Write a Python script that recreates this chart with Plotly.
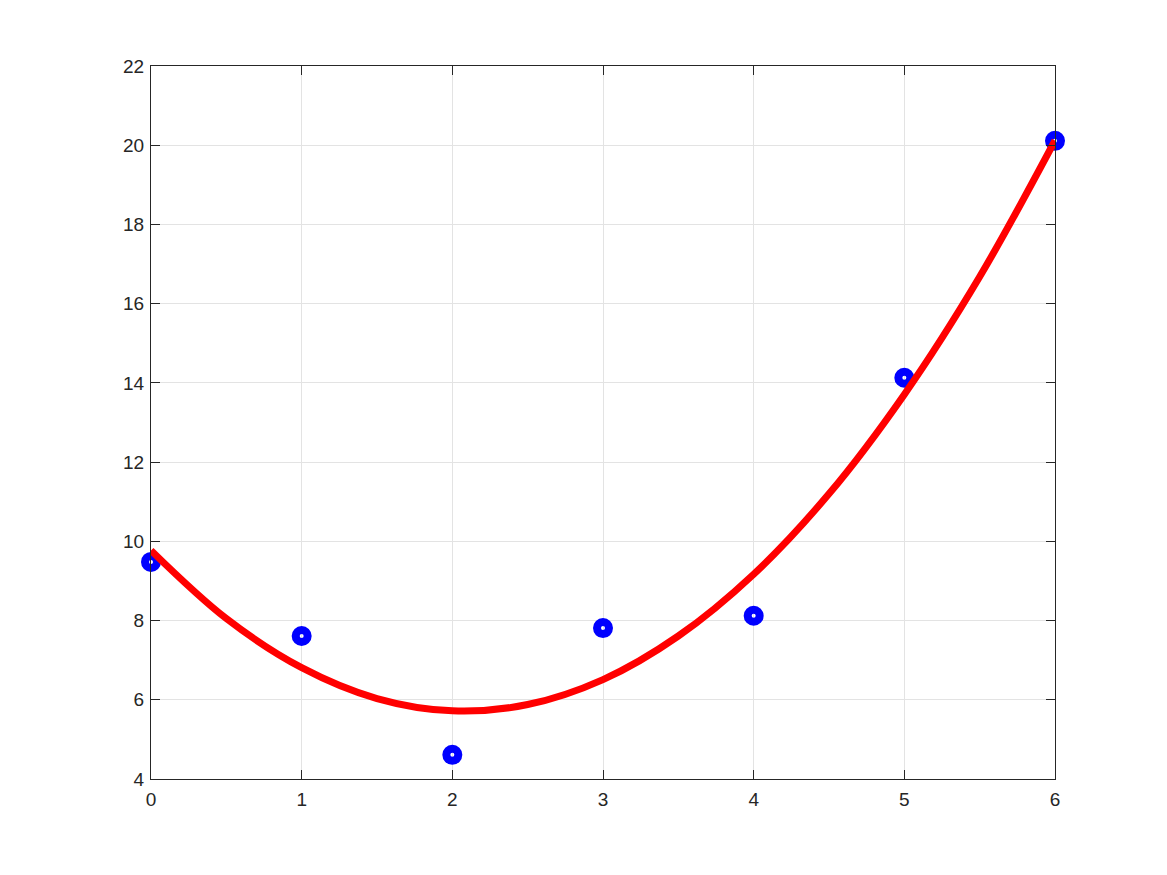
import plotly.graph_objects as go

x_data = [0, 1, 2, 3, 4, 5, 6]
y_data = [9.48, 7.61, 4.61, 7.81, 8.12, 14.13, 20.11]

x_fit = [0, 0.5, 1, 1.5, 2, 2.5, 3, 3.5, 4, 4.5, 5, 5.5, 6]
y_fit = [9.77, 8.05, 6.81, 6.03, 5.72, 5.88, 6.51, 7.61, 9.17, 11.20, 13.71, 16.68, 20.12]

x_ticks = [0, 1, 2, 3, 4, 5, 6]
y_ticks = [4, 6, 8, 10, 12, 14, 16, 18, 20, 22]

fig = go.Figure()
fig.add_trace(go.Scatter(
    x=x_data, y=y_data, mode="markers",
    marker=dict(symbol="circle-open", size=12, color="#0000ff",
                line=dict(color="#0000ff", width=8)),
    showlegend=False, cliponaxis=False))
fig.add_trace(go.Scatter(
    x=x_fit, y=y_fit, mode="lines", line=dict(color="#ff0000", width=7, shape="spline"),
    showlegend=False, cliponaxis=False))

axis_common = dict(
    showgrid=True, gridcolor="#e3e3e3", gridwidth=1,
    showline=True, linecolor="#262626", linewidth=1, mirror="ticks",
    ticks="inside", ticklen=9, tickcolor="#262626", tickwidth=1,
    zeroline=False, tickfont=dict(family="Liberation Sans, Arial, sans-serif", size=19, color="#262626"),
)
fig.update_xaxes(range=[0, 6], tickvals=x_ticks, ticktext=[str(v) for v in x_ticks],
                 ticklabelstandoff=3, **axis_common)
fig.update_yaxes(range=[4, 22], tickvals=y_ticks, ticktext=[str(v) for v in y_ticks],
                 ticklabelstandoff=2, **axis_common)

fig.update_layout(
    width=1151, height=859,
    margin=dict(l=143, r=104, t=58, b=88, pad=0),
    paper_bgcolor="white", plot_bgcolor="white",
)
fig.write_html("out.html")
